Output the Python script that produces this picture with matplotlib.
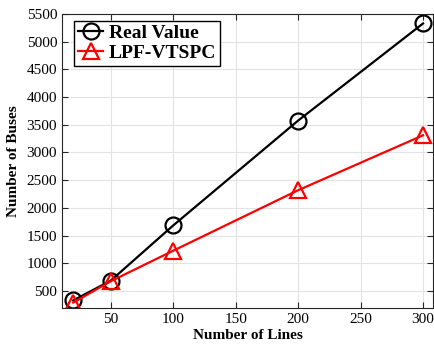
import numpy as np
import matplotlib.pyplot as plt

plt.rcParams['font.family'] = ['Liberation Serif', 'DejaVu Serif']

# Данные
lines_num = [20, 50, 100, 200, 300]
real_value = [335, 690, 1685, 3575, 5325]
lpf_vtspc = [295, 680, 1230, 2320, 3310]

x_ticks = [50, 100, 150, 200, 250, 300]
y_ticks = [500, 1000, 1500, 2000, 2500, 3000, 3500, 4000, 4500, 5000, 5500]

fig = plt.figure(figsize=(4.35, 3.44), dpi=100)
ax = fig.add_axes([0.1425, 0.105, 0.853, 0.855])

ax.plot(lines_num, real_value, color='black', linewidth=1.6, marker='o',
        markersize=11.5, markerfacecolor='none', markeredgewidth=1.6,
        label='Real Value')
ax.plot(lines_num, lpf_vtspc, color='red', linewidth=1.6, marker='^',
        markersize=12, markerfacecolor='none', markeredgewidth=1.6,
        label='LPF-VTSPC')

ax.set_xlim(11, 308)
ax.set_ylim(200, 5500)
ax.set_xticks(x_ticks)
ax.set_yticks(y_ticks)
ax.tick_params(direction='in', top=True, right=True, labelsize=11,
               color='#262626', length=4, width=0.8)
for s in ax.spines.values():
    s.set_color('#262626')
    s.set_linewidth(0.8)
ax.grid(True, color='#e3e3e3', linewidth=0.8)
ax.set_axisbelow(True)

ax.set_xlabel('Number of Lines', fontsize=11, fontweight='bold', labelpad=2)
ax.set_ylabel('Number of Buses', fontsize=11, fontweight='bold', labelpad=5)

leg = ax.legend(loc='upper left', bbox_to_anchor=(12 / 371, 1 - 7 / 294),
                prop={'size': 14, 'weight': 'bold'},
                fancybox=False, edgecolor='black', framealpha=1,
                borderpad=0.2, handlelength=1.3, handletextpad=0.3,
                labelspacing=0.1, borderaxespad=0)
leg.get_frame().set_linewidth(1.0)

fig.savefig('out.png', dpi=100)
